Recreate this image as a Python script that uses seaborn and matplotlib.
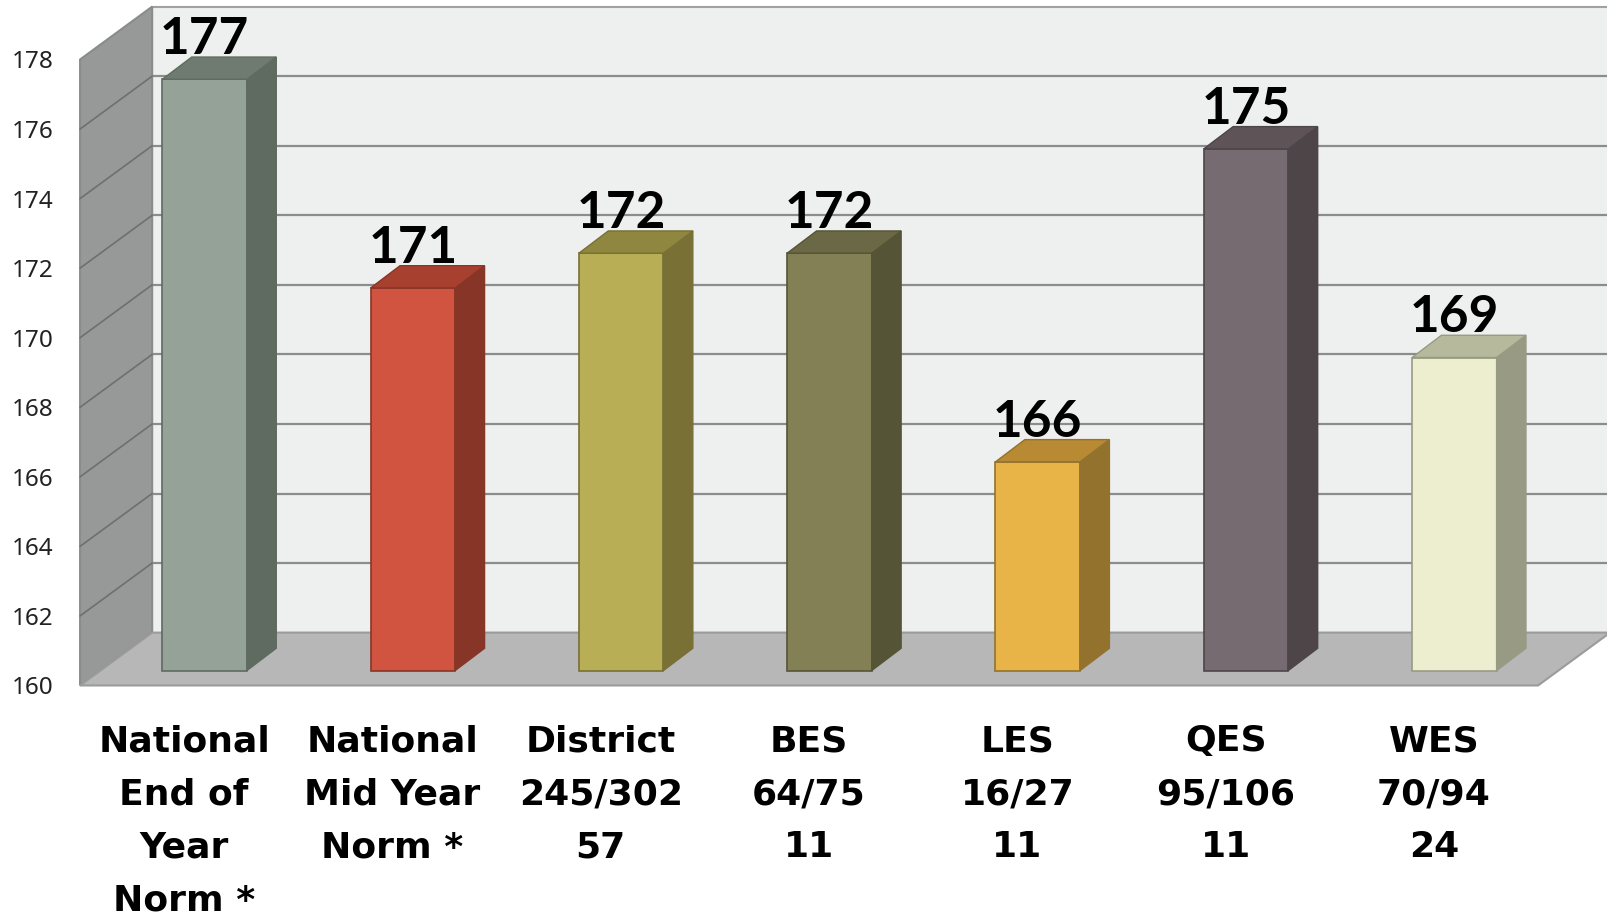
import matplotlib
matplotlib.use("Agg")
import matplotlib.pyplot as plt
from matplotlib.patches import Polygon
import seaborn as sns

# data
categories = ["National\nEnd of\nYear\nNorm *", "National\nMid Year\nNorm *",
              "District\n245/302\n57", "BES\n64/75\n11", "LES\n16/27\n11",
              "QES\n95/106\n11", "WES\n70/94\n24"]
values = [177, 171, 172, 172, 166, 175, 169]
y_ticks = [160, 162, 164, 166, 168, 170, 172, 174, 176, 178]

front_colors = ["#95a298", "#d0543f", "#b7ae55", "#838056", "#e8b448", "#766b70", "#eceecf"]
side_colors = ["#5f6a60", "#873526", "#787034", "#565437", "#93722e", "#4e4548", "#989a84"]
top_colors = ["#6f7b70", "#a8402f", "#8f8740", "#6b6845", "#b78a33", "#5e5458", "#b7b99c"]

# fake 3d geometry (category units / value units)
WALL_DX, WALL_DY = 0.346, 1.52     # full depth of the box
BAR_DX, BAR_DY = 0.098, 0.43       # front face of bars sits a bit behind the floor edge
DEPTH_DX, DEPTH_DY = 0.141, 0.64   # depth of each bar
YMIN, YMAX = 160, 178

sns.set_theme(style="white")
plt.rcParams["font.family"] = ["Noto Sans", "DejaVu Sans"]

fig = plt.figure(figsize=(16.08, 9.18), dpi=100)
ax = fig.add_axes([0.0498, 0.2533, 0.9067, 0.6819])

sns.barplot(x=categories, y=values, hue=categories, palette=front_colors,
            legend=False, width=0.406, saturation=1, ax=ax, zorder=5)
bars = sorted(ax.patches[:], key=lambda p: p.get_x())

ax.set_xlim(-0.5, 6.5)
ax.set_ylim(YMIN, YMAX)
x_lo, x_hi = ax.get_xlim()

# back wall, left wall, floor
wall_kw = dict(clip_on=False, lw=1.5)
ax.add_patch(Polygon([(x_lo + WALL_DX, YMIN + WALL_DY), (x_hi + WALL_DX, YMIN + WALL_DY),
                      (x_hi + WALL_DX, YMAX + WALL_DY), (x_lo + WALL_DX, YMAX + WALL_DY)],
                     fc="#eef0ef", ec="#a0a2a1", zorder=1, **wall_kw))
ax.add_patch(Polygon([(x_lo, YMIN), (x_lo + WALL_DX, YMIN + WALL_DY),
                      (x_lo + WALL_DX, YMAX + WALL_DY), (x_lo, YMAX)],
                     fc="#979998", ec="#8a8c8b", zorder=1, **wall_kw))
for t in y_ticks[1:-1]:
    ax.plot([x_lo + WALL_DX, x_hi + WALL_DX], [t + WALL_DY, t + WALL_DY],
            color="#8c8c8c", lw=1.6, zorder=2, clip_on=False)
    ax.plot([x_lo, x_lo + WALL_DX], [t, t + WALL_DY],
            color="#6e706f", lw=1.2, zorder=2, clip_on=False)
ax.add_patch(Polygon([(x_lo, YMIN), (x_hi, YMIN), (x_hi + WALL_DX, YMIN + WALL_DY),
                      (x_lo + WALL_DX, YMIN + WALL_DY)],
                     fc="#b6b7b6", ec="#9a9b9a", zorder=3, **wall_kw))

# turn flat bars into boxes
for i, p in enumerate(bars):
    x0 = p.get_x() + BAR_DX
    w = p.get_width()
    h = p.get_height()
    base = YMIN + BAR_DY
    top = h + BAR_DY
    p.set_x(x0)
    p.set_y(base)
    p.set_height(h - YMIN)
    p.set_edgecolor(side_colors[i])
    p.set_linewidth(1.2)
    side = Polygon([(x0 + w, base), (x0 + w + DEPTH_DX, base + DEPTH_DY),
                    (x0 + w + DEPTH_DX, top + DEPTH_DY), (x0 + w, top)],
                   fc=side_colors[i], ec=side_colors[i], lw=1, zorder=5, clip_on=False)
    lid = Polygon([(x0, top), (x0 + w, top), (x0 + w + DEPTH_DX, top + DEPTH_DY),
                   (x0 + DEPTH_DX, top + DEPTH_DY)],
                  fc=top_colors[i], ec=side_colors[i], lw=1, zorder=5, clip_on=False)
    ax.add_patch(side)
    ax.add_patch(lid)
    ax.text(x0 + w / 2, top + DEPTH_DY + 0.08, str(values[i]), ha="center", va="baseline",
            fontsize=37, fontweight="bold", family=["Lato", "Noto Sans"],
            color="black", zorder=6, clip_on=False)

ax.set_yticks(y_ticks)
ax.set_yticklabels([str(t) for t in y_ticks])
ax.tick_params(axis="y", length=0, pad=19, labelsize=17.5, labelcolor="#222222")
ax.set_xticks(range(len(categories)))
ax.set_xticklabels(categories, fontweight="bold", fontsize=26, linespacing=1.7,
                   family=["DejaVu Sans"], color="black")
ax.tick_params(axis="x", length=0, pad=28)
for s in ax.spines.values():
    s.set_visible(False)
ax.set_facecolor("none")
ax.set_xlabel("")
ax.set_ylabel("")

fig.savefig("out.png", dpi=100, facecolor="white")
